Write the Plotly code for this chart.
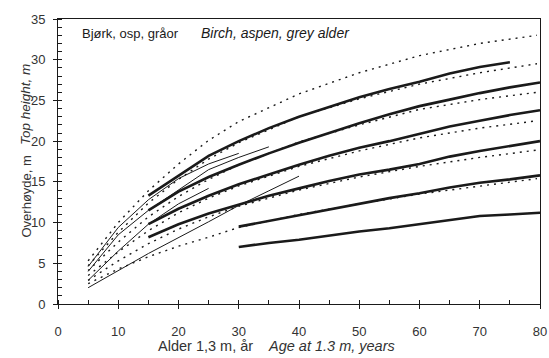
import plotly.graph_objects as go

# ---- data ----
# thick site-index curves
thick_x = {
    "A": [15, 20, 25, 30, 35, 40, 45, 50, 55, 60, 65, 70, 75],
    "B": [15, 20, 25, 30, 35, 40, 45, 50, 55, 60, 65, 70, 75, 80],
    "C": [15, 20, 25, 30, 35, 40, 45, 50, 55, 60, 65, 70, 75, 80],
    "D": [15, 20, 25, 30, 35, 40, 45, 50, 55, 60, 65, 70, 75, 80],
    "E": [30, 35, 40, 45, 50, 55, 60, 65, 70, 75, 80],
    "F": [30, 35, 40, 45, 50, 55, 60, 65, 70, 75, 80],
}
thick_y = {
    "A": [13.3, 15.8, 18.2, 20.0, 21.6, 23.0, 24.2, 25.4, 26.4, 27.3, 28.3, 29.1, 29.7],
    "B": [11.5, 13.8, 15.6, 17.1, 18.5, 19.8, 21.0, 22.2, 23.3, 24.3, 25.1, 25.9, 26.6, 27.2],
    "C": [9.8, 11.7, 13.3, 14.7, 15.9, 17.1, 18.2, 19.2, 20.0, 20.9, 21.8, 22.5, 23.2, 23.8],
    "D": [8.2, 9.8, 11.1, 12.2, 13.3, 14.2, 15.1, 15.9, 16.5, 17.2, 18.1, 18.8, 19.4, 20.0],
    "E": [9.5, 10.2, 10.9, 11.6, 12.3, 13.0, 13.6, 14.3, 14.9, 15.3, 15.8],
    "F": [7.0, 7.5, 7.9, 8.4, 8.9, 9.3, 9.8, 10.3, 10.8, 11.0, 11.2],
}

# dotted reference curves
dot_x = [5, 10, 15, 20, 25, 30, 40, 50, 60, 70, 79.5]
dot_y = {
    "d1": [5.3, 10.0, 13.9, 17.2, 20.1, 22.4, 25.8, 28.4, 30.5, 32.0, 33.0],
    "d2": [4.7, 8.8, 12.4, 15.3, 17.8, 19.8, 23.0, 25.2, 27.0, 28.4, 29.5],
    "d3": [4.1, 7.6, 10.7, 13.2, 15.3, 17.1, 19.9, 22.0, 23.9, 25.1, 26.0],
    "d4": [3.5, 6.4, 9.0, 11.2, 13.0, 14.5, 16.9, 18.8, 20.4, 21.6, 22.5],
    "d5": [2.9, 5.3, 7.4, 9.2, 10.7, 12.0, 14.0, 15.6, 16.9, 18.0, 18.9],
    "d6": [2.5, 4.3, 5.8, 7.1, 8.2, 9.4, 11.0, 12.3, 13.5, 14.5, 15.4],
}

# thin observed series
thin_x = {
    "L1": [5, 10, 15, 20, 25, 30],
    "L2": [5, 10, 15, 20, 25, 30, 35],
    "L3": [5, 10, 15, 20, 25],
    "L4": [5, 15, 25, 30, 35, 40],
}
thin_y = {
    "L1": [4.6, 9.4, 12.8, 15.4, 17.2, 18.5],
    "L2": [4.0, 8.5, 11.5, 14.0, 16.5, 18.0, 19.3],
    "L3": [2.9, 6.5, 9.8, 12.3, 14.2],
    "L4": [2.0, 6.2, 10.1, 12.1, 13.9, 15.7],
}

x_ticks = [0, 10, 20, 30, 40, 50, 60, 70, 80]
y_ticks = [0, 5, 10, 15, 20, 25, 30, 35]

FONT = "Liberation Sans, Arial, sans-serif"
INK = "#1a1a1a"
TXT = "#333333"

fig = go.Figure()

for k in dot_y:
    fig.add_trace(go.Scatter(x=dot_x, y=dot_y[k], mode="lines",
                             line=dict(color=INK, width=1.4, dash="2px,5px"),
                             showlegend=False, hoverinfo="skip"))
for k in thin_y:
    fig.add_trace(go.Scatter(x=thin_x[k], y=thin_y[k], mode="lines",
                             line=dict(color=INK, width=1),
                             showlegend=False, hoverinfo="skip"))
for k in thick_y:
    fig.add_trace(go.Scatter(x=thick_x[k], y=thick_y[k], mode="lines",
                             line=dict(color=INK, width=2.6),
                             showlegend=False, hoverinfo="skip"))

# dummy trace to activate the overlay axes (inner half of crossing major ticks)
fig.add_trace(go.Scatter(x=[None], y=[None], xaxis="x2", yaxis="y2",
                         showlegend=False, hoverinfo="skip"))

# plot area: left 58, right 540, top 19, bottom 304 (px)
PW, PH = 482.0, 285.0
def px_x(p):
    return (p - 58) / PW
def px_y(p):
    return (304 - p) / PH

annotations = [
    # panel label
    dict(text="Bjørk, osp, gråor", x=px_x(80), y=px_y(33), xanchor="left",
         font=dict(size=13, color=INK)),
    dict(text="<i>Birch, aspen, grey alder</i>", x=px_x(199), y=px_y(33),
         xanchor="left", font=dict(size=14, color=INK)),
    # x axis title
    dict(text="Alder 1,3 m, år", x=px_x(156), y=px_y(346), xanchor="left",
         font=dict(size=14.5, color=TXT)),
    dict(text="<i>Age at 1.3 m, years</i>", x=px_x(266), y=px_y(346),
         xanchor="left", font=dict(size=14.5, color=TXT)),
    # y axis title
    dict(text="Overhøyde, m", x=px_x(16), y=px_y(240), yanchor="bottom",
         textangle=-90, font=dict(size=13, color=TXT)),
    dict(text="<i>Top height, m</i>", x=px_x(16), y=px_y(147), yanchor="bottom",
         textangle=-90, font=dict(size=13.5, color=TXT)),
]
for a in annotations:
    a.update(xref="paper", yref="paper", showarrow=False,
             yanchor=a.get("yanchor", "middle"))
    a["font"]["family"] = FONT

fig.update_layout(
    width=549, height=358,
    margin=dict(l=58, r=9, t=19, b=54, autoexpand=False),
    paper_bgcolor="white", plot_bgcolor="white",
    font=dict(family=FONT, size=13, color=TXT),
    xaxis=dict(
        range=[0, 80], tickvals=x_ticks, ticktext=[str(v) for v in x_ticks],
        ticks="outside", ticklen=4, tickcolor=INK, tickwidth=1,
        showline=True, linecolor=INK, linewidth=1, mirror=True,
        showgrid=False, zeroline=False, ticklabelstandoff=11, automargin=False,
        minor=dict(dtick=5, ticks="inside", ticklen=4, tickcolor=INK),
    ),
    yaxis=dict(
        range=[0, 35], tickvals=y_ticks, ticktext=[str(v) for v in y_ticks],
        ticks="outside", ticklen=4, tickcolor=INK, tickwidth=1,
        showline=True, linecolor=INK, linewidth=1, mirror=True,
        showgrid=False, zeroline=False, ticklabelstandoff=5, automargin=False,
        minor=dict(dtick=1, ticks="inside", ticklen=4, tickcolor=INK),
    ),
    xaxis2=dict(range=[0, 80], overlaying="x", anchor="y2", tickvals=x_ticks,
                ticks="inside", ticklen=4, tickcolor=INK, showticklabels=False,
                showline=False, showgrid=False, zeroline=False, automargin=False),
    yaxis2=dict(range=[0, 35], overlaying="y", anchor="x2", tickvals=y_ticks,
                ticks="inside", ticklen=4, tickcolor=INK, showticklabels=False,
                showline=False, showgrid=False, zeroline=False, automargin=False),
    annotations=annotations,
)

fig.write_html("out.html")
